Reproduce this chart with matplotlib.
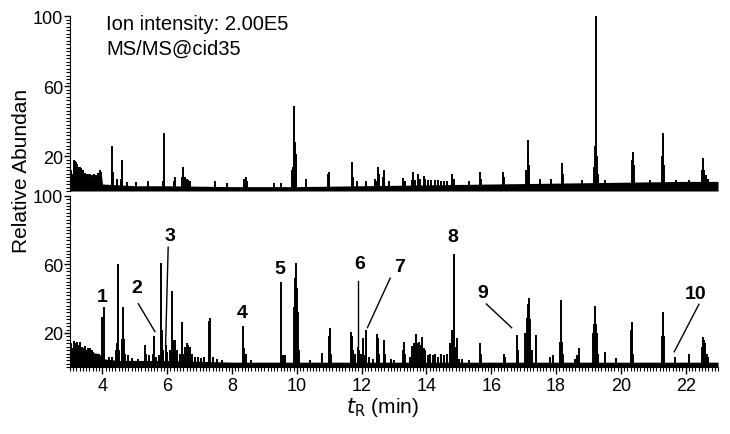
import matplotlib.pyplot as plt
from matplotlib.ticker import MultipleLocator

# retention times (min) and relative abundances
# top trace: Ion intensity 2.00E5, MS/MS@cid35
top_base_t = [3.0, 3.08, 3.12, 3.2, 3.3, 3.45, 3.6, 3.8, 3.95, 3.98,
              4.0, 4.5, 5.0, 6.0, 8.0, 10.0, 12.0, 14.0, 16.0, 18.0, 20.0, 22.0, 23.0]
top_base_h = [9, 8, 13, 13, 11, 9, 8, 8, 9, 8,
              4, 3.5, 3, 3, 2.5, 2.5, 3, 3.5, 4, 4.5, 5, 5.5, 5.5]

top_t = [3.02, 3.06, 3.13, 3.16, 3.19, 3.23, 3.27, 3.31, 3.35, 3.40, 3.45, 3.50,
         3.56, 3.62, 3.68, 3.74, 3.80, 3.86, 3.92, 3.96,
         4.29, 4.31, 4.34, 4.45, 4.56, 4.59, 4.75, 5.05, 5.4, 5.88, 5.90, 6.20, 6.24,
         6.45, 6.50, 6.55, 6.60, 6.65, 6.70, 7.48, 7.85, 8.38, 8.42, 8.46, 9.3, 9.5,
         9.85, 9.88, 9.92, 9.94, 9.96, 9.99, 10.28, 10.97, 10.99, 11.70, 11.73, 11.85,
         12.15, 12.40, 12.47, 12.52, 12.55, 12.67, 12.70, 12.85, 13.29, 13.33, 13.55,
         13.60, 13.65, 13.75, 13.80, 13.91, 13.95, 14.05, 14.15, 14.25, 14.35, 14.45,
         14.55, 14.65, 14.78, 14.80, 14.84, 15.3, 15.65, 15.68, 16.37, 16.40, 17.08,
         17.12, 17.15, 17.18, 17.5, 17.85, 18.17, 18.20, 18.8, 19.18, 19.21, 19.23,
         19.26, 19.3, 19.5, 20.35, 20.37, 20.40, 20.9, 21.27, 21.29, 21.31, 21.34,
         21.7, 22.1, 22.5, 22.55, 22.58, 22.62, 22.7]
top_h = [12, 10, 18, 17, 16.5, 15.5, 14, 13.5, 13, 12, 10.5, 10,
         9.5, 10, 9, 9.5, 9, 10.5, 12, 11,
         11, 25.5, 11, 7, 7, 17.7, 5, 5, 6, 6, 33, 6, 8,
         8, 14, 8, 7, 6.5, 6, 5.5, 4.5, 7, 7.8, 6, 4.5, 4.5,
         12, 13.7, 48.8, 28, 21, 15, 7, 10, 11, 16.4, 8, 6,
         6, 7, 6, 14, 10, 8, 12, 5.5, 7.5, 6, 6.5,
         10.7, 6.5, 9.7, 7, 8.6, 7, 6.5, 6.5, 6.5, 6.5, 6,
         6, 6, 8, 9.7, 7, 6, 10.7, 7, 11, 8, 12,
         29, 22, 15, 7, 7, 16, 10, 6.5, 14, 26, 100,
         20, 10, 6.5, 18, 22.5, 15, 6.5, 20, 33, 28, 15,
         6.5, 6.5, 12, 19, 12, 9, 7]

# bottom trace
bot_base_t = [3.0, 3.05, 3.5, 3.9, 4.0, 4.5, 6.0, 7.0, 8.0, 23.0]
bot_base_h = [8, 10, 9, 8, 5, 4, 4, 3.5, 3, 3]

bot_t = [3.03, 3.07, 3.12, 3.17, 3.22, 3.27, 3.32, 3.37, 3.42, 3.47, 3.52, 3.57, 3.62,
         3.67, 3.72, 3.78, 3.84, 3.90, 3.98, 4.03, 4.06, 4.2, 4.3, 4.42, 4.46, 4.49,
         4.52, 4.60, 4.62, 4.64, 4.66, 4.70, 4.8, 4.9, 5.1, 5.31, 5.35, 5.45, 5.55,
         5.60, 5.65, 5.75, 5.81, 5.84, 5.88, 5.95, 6.0, 6.10, 6.15, 6.18, 6.22, 6.25,
         6.30, 6.38, 6.45, 6.50, 6.55, 6.60, 6.65, 6.70, 6.75, 6.85, 6.95, 7.05, 7.15,
         7.30, 7.32, 7.40, 7.55, 7.7, 8.33, 8.35, 8.38, 8.42, 8.6, 9.52, 9.56, 9.65,
         9.9, 9.93, 9.95, 9.98, 10.00, 10.03, 10.06, 10.4, 10.77, 11.00, 11.02, 11.05,
         11.66, 11.70, 11.74, 11.8, 11.88, 11.92, 11.97, 12.03, 12.08, 12.15, 12.22,
         12.35, 12.47, 12.49, 12.52, 12.55, 12.68, 12.70, 12.73, 12.9, 13.0, 13.29,
         13.31, 13.35, 13.5, 13.57, 13.62, 13.68, 13.72, 13.78, 13.82, 13.87, 13.92,
         13.97, 14.05, 14.12, 14.2, 14.28, 14.35, 14.45, 14.55, 14.65, 14.72, 14.80,
         14.85, 14.88, 14.93, 15.0, 15.1, 15.3, 15.65, 15.68, 16.38, 16.42, 16.79,
         16.82, 17.05, 17.10, 17.13, 17.16, 17.18, 17.21, 17.25, 17.37, 17.8, 17.9,
         18.13, 18.15, 18.18, 18.22, 18.6, 18.65, 18.70, 19.15, 19.17, 19.20, 19.22,
         19.25, 19.3, 19.5, 19.85, 20.30, 20.33, 20.36, 20.39, 21.27, 21.29, 21.32,
         21.66, 22.1, 22.5, 22.53, 22.56, 22.6, 22.65, 22.7]
bot_h = [14, 11, 15.5, 14, 15, 13, 14.5, 12, 11, 12.5, 10, 11, 11.5,
         10, 9, 8, 7, 7.5, 29.5, 8, 35, 6, 6, 10, 14, 60,
         10, 16.7, 16.7, 35.4, 16.7, 8, 7, 5.5, 5, 13, 8, 7, 8,
         18.5, 6, 7, 61, 22, 10, 12.8, 9, 10, 44.7, 16, 14, 16,
         10, 8, 26.6, 8, 12, 14, 13, 12, 8, 6, 6, 5.5, 6,
         27, 29, 6, 5, 4.5, 24, 14, 11, 8, 4.5, 49.5, 7, 7,
         35, 46, 52, 61, 46, 32, 10, 4.5, 8.5, 18, 22.7, 8,
         20.6, 18.5, 10, 8, 11.8, 10, 8, 17, 7, 22, 6,
         5, 16, 19.4, 17, 8, 10, 16, 8, 5, 4.5, 10,
         14.6, 8, 6, 12.5, 14, 19.6, 14, 15, 13, 17.6, 11,
         10, 7, 8, 7, 7.5, 6, 8, 7, 8, 14, 22,
         66, 12, 17, 5, 5, 4.5, 14.3, 8, 8, 6, 18.7,
         10, 20, 29, 37, 35, 40.3, 28, 10, 18.6, 6, 7,
         15, 39, 15, 8, 5, 7, 11, 20, 25, 36, 25,
         20, 8, 9, 5.5, 22, 26.6, 24, 8, 18, 32.4, 18,
         6, 7.5, 12, 17.5, 16, 14, 8, 6]

# peak numbers: label position, and leader line (start, end) where drawn
peak_labels = ['1', '2', '3', '4', '5', '6', '7', '8', '9', '10']
label_t = [3.98, 5.06, 6.07, 8.30, 9.48, 11.93, 13.16, 14.83, 15.73, 22.32]
label_y = [41, 46.5, 77, 32, 57.5, 60.6, 58.7, 76.2, 43.7, 43.1]
leader_t0 = [None, 5.11, 6.03, None, None, 11.88, 12.88, None, 15.85, 22.41]
leader_y0 = [None, 37, 70, None, None, 50.3, 51.9, None, 36.9, 36.7]
leader_t1 = [None, 5.62, 5.95, None, None, 11.88, 12.18, None, 16.63, 21.65]
leader_y1 = [None, 20.8, 12.8, None, None, 11.8, 23.1, None, 23.1, 9.1]

plt.rcParams['font.family'] = ['Liberation Sans', 'DejaVu Sans']
fig = plt.figure(figsize=(7.3, 4.35), dpi=100)
ax1 = fig.add_axes([0.0959, 0.5586, 0.8877, 0.4023])
ax2 = fig.add_axes([0.0959, 0.1533, 0.8877, 0.3945])

for ax, bt, bh, pt, ph in [(ax1, top_base_t, top_base_h, top_t, top_h),
                           (ax2, bot_base_t, bot_base_h, bot_t, bot_h)]:
    ax.fill_between(bt, 0, bh, color='black', lw=0)
    ax.vlines(pt, 0, ph, color='black', lw=1.4)
    ax.set_xlim(3, 23)
    ax.set_ylim(0, 100)
    ax.set_yticks([20, 60, 100])
    ax.yaxis.set_minor_locator(MultipleLocator(2))
    ax.tick_params(axis='y', which='major', length=4, width=1, pad=1, labelsize=13)
    ax.tick_params(axis='y', which='minor', length=3, width=0.8)
    ax.spines['top'].set_visible(False)
    ax.spines['right'].set_visible(False)
    ax.patch.set_alpha(0)

ax1.spines['bottom'].set_visible(False)
ax1.set_xticks([])
ax1.tick_params(axis='x', which='both', bottom=False, labelbottom=False)

ax2.set_xticks(range(4, 23, 2))
ax2.xaxis.set_minor_locator(MultipleLocator(0.1))
ax2.tick_params(axis='x', which='major', length=5, width=1, pad=2, labelsize=13)
ax2.tick_params(axis='x', which='minor', length=3, width=0.8)

for i, lab in enumerate(peak_labels):
    ax2.text(label_t[i], label_y[i], lab, ha='center', va='center',
             fontsize=14, fontweight='bold')
    if leader_t0[i] is not None:
        ax2.plot([leader_t0[i], leader_t1[i]], [leader_y0[i], leader_y1[i]],
                 color='black', lw=1)

fig.text(106 / 730, 1 - 30 / 435, 'Ion intensity: 2.00E5', fontsize=14.5, va='baseline')
fig.text(106 / 730, 1 - 55 / 435, 'MS/MS@cid35', fontsize=14.5, va='baseline')
fig.text(22 / 730, 1 - 171 / 435, 'Relative Abundan', rotation=90, fontsize=15,
         ha='center', va='center')
fig.text(382 / 730, 1 - 408 / 435, r'$t_{\mathrm{R}}$ (min)', fontsize=15,
         ha='center', va='center')

plt.savefig('out.png', dpi=100)
